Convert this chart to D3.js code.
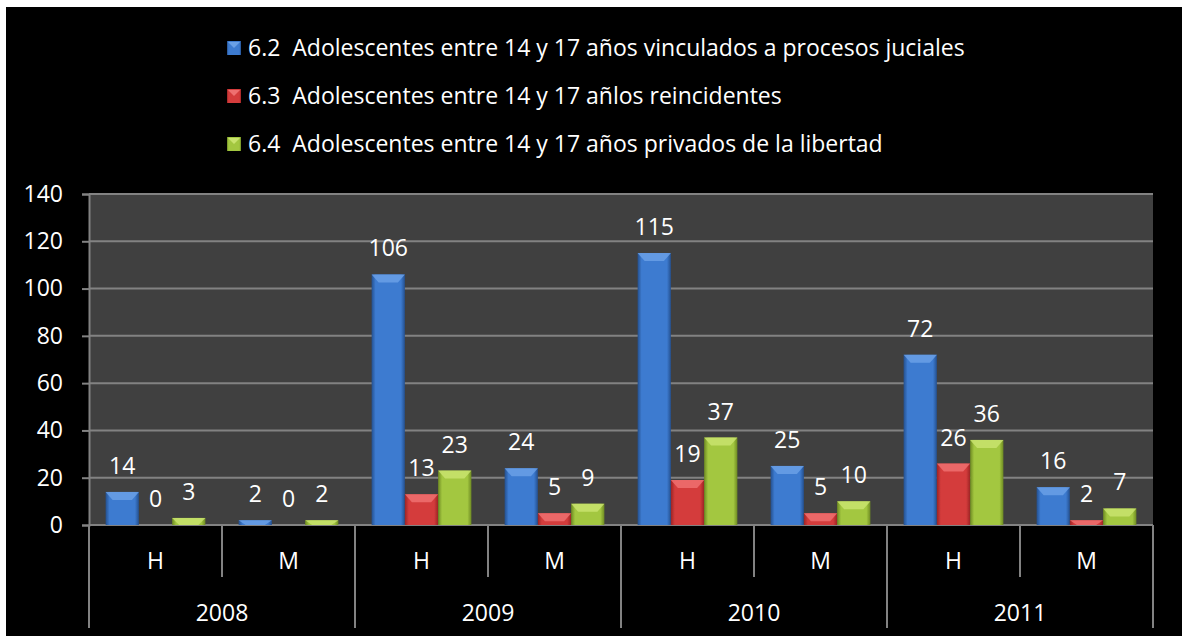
<!DOCTYPE html>
<html>
<head>
<meta charset="utf-8">
<script src="https://cdnjs.cloudflare.com/ajax/libs/d3/7.8.5/d3.min.js"></script>
<style>
  body { margin: 0; background: #fff; }
  svg { display: block; }
  text { font-family: "Open Sans", "Noto Sans", sans-serif; fill: #fff; }
</style>
</head>
<body>
<svg id="chart"></svg>
<script>
var years = ["2008", "2009", "2010", "2011"];
var sexes = ["H", "M"];
var seriesNames = [
  "6.2  Adolescentes entre 14 y 17 años vinculados a procesos juciales",
  "6.3  Adolescentes entre 14 y 17 añlos reincidentes",
  "6.4  Adolescentes entre 14 y 17 años privados de la libertad"
];
var values62 = [14, 2, 106, 24, 115, 25, 72, 16];
var values63 = [0, 0, 13, 5, 19, 5, 26, 2];
var values64 = [3, 2, 23, 9, 37, 10, 36, 7];
var yTicks = [0, 20, 40, 60, 80, 100, 120, 140];

var width = 1183,
  height = 636;

// colours per series: [edge, body, light top]
var palette = [
  { dark: "#24508f", mid: "#3d7bd0", light: "#6aa0e6" },
  { dark: "#9c2424", mid: "#d43c3c", light: "#ee7070" },
  { dark: "#6e8a22", mid: "#a3c740", light: "#c9e36e" }
];

var series = [values62, values63, values64];

// one entry per H/M column
var cats = [];
years.forEach(function(y) {
  sexes.forEach(function(s) {
    cats.push({ key: y + "-" + s, year: y, sex: s });
  });
});

var svg = d3
  .select("#chart")
  .attr("width", width)
  .attr("height", height);

var defs = svg.append("defs");

palette.forEach(function(p, i) {
  var g = defs
    .append("linearGradient")
    .attr("id", "grad" + i)
    .attr("x1", "0")
    .attr("x2", "1")
    .attr("y1", "0")
    .attr("y2", "0");
  g.append("stop").attr("offset", "0").attr("stop-color", p.dark);
  g.append("stop").attr("offset", "0.12").attr("stop-color", p.mid);
  g.append("stop").attr("offset", "0.88").attr("stop-color", p.mid);
  g.append("stop").attr("offset", "1").attr("stop-color", p.dark);
});

// black panel inside the white border
svg
  .append("rect")
  .attr("x", 6)
  .attr("y", 7)
  .attr("width", width - 7)
  .attr("height", height - 7)
  .attr("fill", "#000");

var plot = { left: 89, right: 1153, top: 194, bottom: 525 };

var x0 = d3
  .scaleBand()
  .domain(cats.map(function(d) { return d.key; }))
  .range([plot.left, plot.right]);

var x1 = d3
  .scaleBand()
  .domain([0, 1, 2])
  .range([0, x0.bandwidth()])
  .paddingOuter(0.5);

var y = d3
  .scaleLinear()
  .domain([0, 140])
  .range([plot.bottom, plot.top]);

// Plot area
svg
  .append("rect")
  .attr("x", plot.left)
  .attr("y", plot.top)
  .attr("width", plot.right - plot.left)
  .attr("height", plot.bottom - plot.top)
  .attr("fill", "#404040");

// Gridlines
svg
  .append("g")
  .selectAll("line")
  .data(yTicks.filter(function(d) { return d > 0; }))
  .enter()
  .append("line")
  .attr("x1", plot.left)
  .attr("x2", plot.right)
  .attr("y1", function(d) { return y(d); })
  .attr("y2", function(d) { return y(d); })
  .attr("stroke", "#828282")
  .attr("stroke-width", 2);

// Y axis
var yAxis = d3
  .axisLeft(y)
  .tickValues(yTicks)
  .tickSize(7)
  .tickPadding(19);

var yg = svg
  .append("g")
  .attr("transform", "translate(" + plot.left + ",0)")
  .call(yAxis);
yg.select(".domain").attr("stroke", "#828282").attr("stroke-width", 2);
yg.selectAll(".tick line").attr("stroke", "#828282").attr("stroke-width", 2);
yg
  .selectAll(".tick text")
  .attr("fill", "#fff")
  .style("font-size", "23px")
  .style("font-family", '"Open Sans", sans-serif');

// Category axis: baseline + dividers
var axisG = svg.append("g");
axisG
  .append("line")
  .attr("x1", plot.left)
  .attr("x2", plot.right)
  .attr("y1", plot.bottom)
  .attr("y2", plot.bottom)
  .attr("stroke", "#828282")
  .attr("stroke-width", 2);

var dividers = d3.range(cats.length + 1).map(function(i) {
  return {
    x: i < cats.length ? x0(cats[i].key) : plot.right,
    major: i % sexes.length === 0
  };
});

axisG
  .selectAll(".divider")
  .data(dividers)
  .enter()
  .append("line")
  .attr("class", "divider")
  .attr("x1", function(d) { return d.x; })
  .attr("x2", function(d) { return d.x; })
  .attr("y1", plot.bottom)
  .attr("y2", function(d) { return d.major ? 628 : 577; })
  .attr("stroke", "#828282")
  .attr("stroke-width", 2);

axisG
  .selectAll(".sex")
  .data(cats)
  .enter()
  .append("text")
  .attr("class", "sex")
  .attr("x", function(d) { return x0(d.key) + x0.bandwidth() / 2; })
  .attr("y", 569)
  .attr("text-anchor", "middle")
  .style("font-size", "23px")
  .text(function(d) { return d.sex; });

axisG
  .selectAll(".year")
  .data(years)
  .enter()
  .append("text")
  .attr("class", "year")
  .attr("x", function(d) {
    return x0(d + "-H") + x0.bandwidth();
  })
  .attr("y", 621)
  .attr("text-anchor", "middle")
  .style("font-size", "23px")
  .text(function(d) { return d; });

// Bars
var bars = [];
cats.forEach(function(c, ci) {
  series.forEach(function(vals, si) {
    bars.push({ cat: c.key, s: si, v: vals[ci] });
  });
});

var barG = svg
  .append("g")
  .selectAll(".bar")
  .data(bars)
  .enter()
  .append("g")
  .attr("class", "bar")
  .attr("transform", function(d) {
    return "translate(" + (x0(d.cat) + x1(d.s)) + ",0)";
  });

var bw = x1.bandwidth();

barG
  .filter(function(d) { return d.v > 0; })
  .append("rect")
  .attr("x", 0)
  .attr("width", bw)
  .attr("y", function(d) { return y(d.v); })
  .attr("height", function(d) { return y(0) - y(d.v); })
  .attr("fill", function(d) { return "url(#grad" + d.s + ")"; });

// bevelled top face
barG
  .filter(function(d) { return d.v > 0; })
  .append("path")
  .attr("d", function(d) {
    var top = y(d.v),
      h = Math.min(8, y(0) - top);
    return (
      "M0," + top + "L" + bw + "," + top +
      "L" + (bw - 7) + "," + (top + h) +
      "L7," + (top + h) + "Z"
    );
  })
  .attr("fill", function(d) { return palette[d.s].light; })
  .attr("opacity", 0.85);

barG
  .append("text")
  .attr("x", bw / 2)
  .attr("y", function(d) { return y(d.v) - 18; })
  .attr("text-anchor", "middle")
  .style("font-size", "23px")
  .text(function(d) { return d.v; });

// Legend
var legend = svg
  .append("g")
  .selectAll(".legend")
  .data(seriesNames)
  .enter()
  .append("g")
  .attr("class", "legend")
  .attr("transform", function(d, i) {
    return "translate(227," + (48 + i * 48) + ")";
  });

legend
  .append("rect")
  .attr("x", 0)
  .attr("y", -7)
  .attr("width", 14)
  .attr("height", 14)
  .attr("fill", function(d, i) { return "url(#grad" + i + ")"; });

legend
  .append("path")
  .attr("d", "M1,-6L13,-6L7,0Z")
  .attr("fill", function(d, i) { return palette[i].light; });

legend
  .append("text")
  .attr("x", 21)
  .attr("y", 8)
  .style("font-size", "23px")
  .style("white-space", "pre")
  .attr("xml:space", "preserve")
  .text(function(d) { return d; });
</script>
</body>
</html>
